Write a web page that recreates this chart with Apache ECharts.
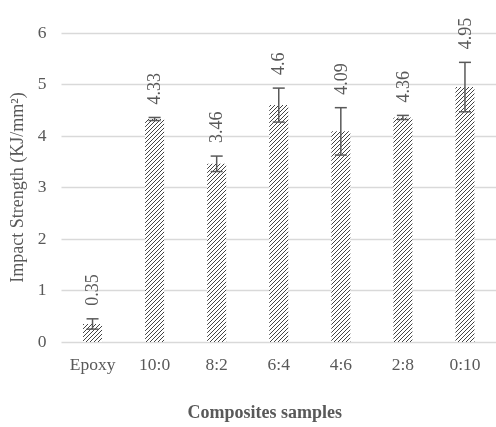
<!DOCTYPE html>
<html><head><meta charset="utf-8">
<script src="https://cdn.jsdelivr.net/npm/echarts@6/dist/echarts.min.js"></script>
<style>html,body{margin:0;padding:0;background:#fff}#c{width:496px;height:427px}</style>
</head><body><div id="c"></div>
<script>
const categories = ['Epoxy','10:0','8:2','6:4','4:6','2:8','0:10'];
const values = [0.35, 4.33, 3.46, 4.6, 4.09, 4.36, 4.95];
const errors = [0.10, 0.03, 0.15, 0.33, 0.46, 0.04, 0.48];
const yTicks = [0, 1, 2, 3, 4, 5, 6];

const FONT = 'Liberation Serif';
const GRAY = '#595959';

// hatch pattern
const pc = document.createElement('canvas');
pc.width = 4; pc.height = 4;
const pctx = pc.getContext('2d');
pctx.fillStyle = '#fff'; pctx.fillRect(0,0,4,4);
pctx.strokeStyle = '#444'; pctx.lineWidth = 1.0;
pctx.beginPath();
pctx.moveTo(0,4); pctx.lineTo(4,0);
pctx.moveTo(-1,1); pctx.lineTo(1,-1);
pctx.moveTo(3,5); pctx.lineTo(5,3);
pctx.stroke();

const chart = echarts.init(document.getElementById('c'), null, {renderer:'canvas'});
const errData = values.map((v,i)=>[i, v, errors[i]]);
chart.setOption({
  animation:false,
  grid:{left:61.5, right:-7, top:33, bottom:82},
  xAxis:{
    type:'category', data:categories,
    axisLine:{show:false}, axisTick:{show:false},
    axisLabel:{color:GRAY, fontFamily:FONT, fontSize:17.5, margin:14},
    name:'Composites samples', nameLocation:'middle', nameGap:62,
    nameTextStyle:{color:GRAY, fontFamily:FONT, fontSize:18, fontWeight:'bold', padding:[0,28,0,0]}
  },
  yAxis:{
    type:'value', min:yTicks[0], max:yTicks[yTicks.length-1], interval:1,
    axisLine:{show:false}, axisTick:{show:false},
    splitLine:{lineStyle:{color:'#d9d9d9', width:1.3}},
    axisLabel:{color:GRAY, fontFamily:FONT, fontSize:17.5, margin:15},
    name:'Impact Strength (KJ/mm²)', nameLocation:'middle', nameGap:32,
    nameTextStyle:{color:GRAY, fontFamily:FONT, fontSize:18}
  },
  series:[
    {type:'bar', data:values, barWidth:19,
     itemStyle:{color:{image:pc, repeat:'repeat'}}},
    {type:'custom', data:errData, z:10,
     renderItem:function(params, api){
       const i = api.value(0), v = api.value(1), e = api.value(2);
       const top = api.coord([i, v+e]);
       const bot = api.coord([i, v-e]);
       const x = top[0], cw = 6;
       return {type:'group', children:[
         {type:'line', shape:{x1:x,y1:top[1],x2:x,y2:bot[1]}, style:{stroke:GRAY, lineWidth:1.5}},
         {type:'line', shape:{x1:x-cw,y1:top[1],x2:x+cw,y2:top[1]}, style:{stroke:GRAY, lineWidth:1.5}},
         {type:'line', shape:{x1:x-cw,y1:bot[1],x2:x+cw,y2:bot[1]}, style:{stroke:GRAY, lineWidth:1.5}},
         {type:'text', x:x+1, y:top[1]-13, rotation:Math.PI/2,
          style:{text:String(v), fill:GRAY, font:'18px "'+FONT+'"', align:'left', verticalAlign:'middle'}}
       ]};
     }}
  ]
});
</script></body></html>
